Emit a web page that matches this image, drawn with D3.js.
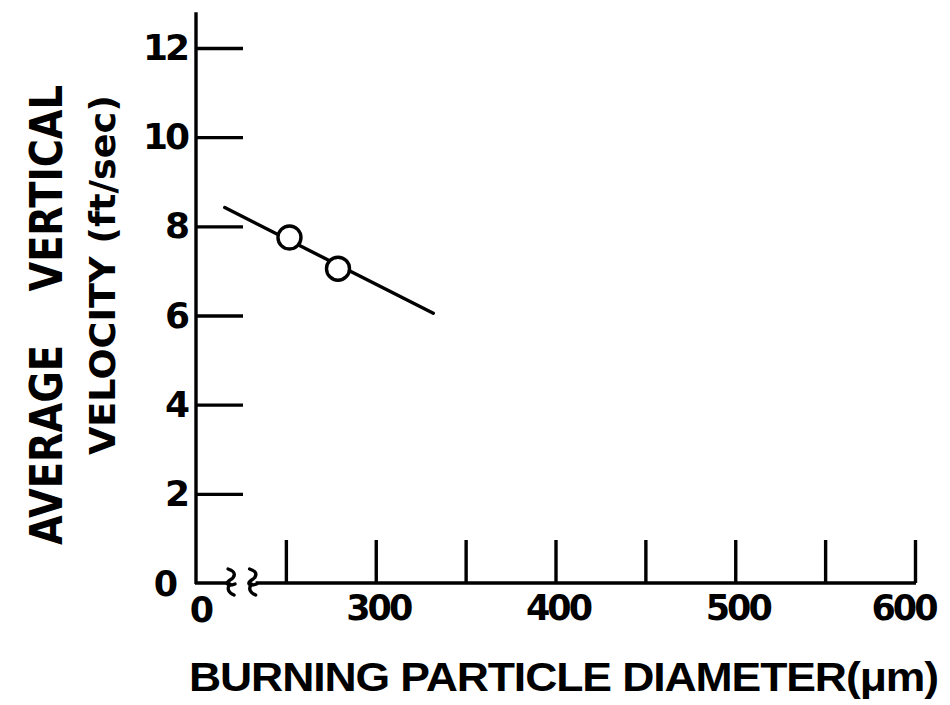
<!DOCTYPE html>
<html>
<head>
<meta charset="utf-8">
<script src="https://cdn.jsdelivr.net/npm/d3@7"></script>
<style>
  body { margin: 0; background: #fff; }
  text { font-family: "DejaVu Sans", sans-serif; font-weight: bold; fill: #000; white-space: pre; }
</style>
</head>
<body>
<svg id="chart" width="950" height="705"></svg>
<script>
// Axis ticks and labels
const yTickValues = [2, 4, 6, 8, 10, 12];
const xTickValues = [250, 300, 350, 400, 450, 500, 550, 600];
const xTickLabels = ["", "300", "", "400", "", "500", "", "600"];
const originLabel = "0";

// Measured points: particle diameter (µm) vs. average vertical velocity (ft/sec)
const pointDiameter = [252, 279];
const pointVelocity = [7.75, 7.05];

// Fitted trend line end points
const fitDiameter = [216, 332];
const fitVelocity = [8.42, 6.05];

// Axis break position on the diameter axis (two squiggles)
const breakDiameter = [219.5, 231.5];

const xTitle = "BURNING PARTICLE DIAMETER(μm)";
const yTitle = ["AVERAGE    VERTICAL", "VELOCITY (ft/sec)"];

const svg = d3.select("#chart");
const x = d3.scaleLinear().domain([200, 600]).range([196, 915]);
const y = d3.scaleLinear().domain([0, 12]).range([583, 48]);
const y0 = y(0);
const stroke = 3.4;

// Vertical axis line (runs a little past the top tick)
svg.append("line")
  .attr("x1", x(200)).attr("x2", x(200))
  .attr("y1", y(0) + 1).attr("y2", y(12.8))
  .attr("stroke", "#000").attr("stroke-width", stroke);

// Horizontal axis line, interrupted by the break
svg.append("line")
  .attr("x1", x(200) - 1).attr("x2", x(breakDiameter[0]) - 3)
  .attr("y1", y0).attr("y2", y0)
  .attr("stroke", "#000").attr("stroke-width", stroke);
svg.append("line")
  .attr("x1", x(breakDiameter[1]) + 3).attr("x2", x(600) + 1)
  .attr("y1", y0).attr("y2", y0)
  .attr("stroke", "#000").attr("stroke-width", stroke);

// Break squiggles
breakDiameter.forEach(d => {
  const cx = x(d);
  svg.append("path")
    .attr("d", `M${cx - 3},${y0 - 14} C${cx + 6},${y0 - 11} ${cx + 4},${y0 - 6} ${cx - 1},${y0 - 3}
                C${cx - 6},${y0} ${cx - 4},${y0 + 4} ${cx + 4},${y0 + 1}
                M${cx - 1},${y0 + 1} C${cx - 5},${y0 + 6} ${cx - 2},${y0 + 10} ${cx + 3},${y0 + 12}`)
    .attr("fill", "none").attr("stroke", "#000").attr("stroke-width", stroke)
    .attr("stroke-linecap", "round");
});

// Y axis: ticks pointing inward
const yAxis = d3.axisLeft(y)
  .tickValues(yTickValues)
  .tickSizeInner(-47)
  .tickSizeOuter(0)
  .tickPadding(9)
  .tickFormat(d3.format("d"));
const gy = svg.append("g").attr("transform", `translate(${x(200)},0)`).call(yAxis);
gy.select(".domain").remove();
gy.selectAll(".tick line").attr("stroke", "#000").attr("stroke-width", stroke);
gy.selectAll(".tick text")
  .style("font-family", "'DejaVu Sans', sans-serif")
  .style("font-weight", "bold")
  .attr("font-size", 36).attr("fill", "#000")
  .attr("letter-spacing", -3);

// X axis: ticks pointing inward
const xAxis = d3.axisBottom(x)
  .tickValues(xTickValues)
  .tickSizeInner(-43)
  .tickSizeOuter(0)
  .tickPadding(12)
  .tickFormat((d, i) => xTickLabels[i]);
const gx = svg.append("g").attr("transform", `translate(0,${y0})`).call(xAxis);
gx.select(".domain").remove();
gx.selectAll(".tick line").attr("stroke", "#000").attr("stroke-width", stroke);
gx.selectAll(".tick text")
  .style("font-family", "'DejaVu Sans', sans-serif")
  .style("font-weight", "bold")
  .attr("font-size", 35).attr("fill", "#000")
  .attr("letter-spacing", -3)
  .attr("dx", d => d === 600 ? -12 : 2);

// Origin labels
svg.append("text")
  .attr("x", x(200) - 18).attr("y", y0 + 13)
  .attr("text-anchor", "end")
  .attr("font-size", 35)
  .text(originLabel);
svg.append("text")
  .attr("x", x(200) + 6).attr("y", y0 + 39)
  .attr("text-anchor", "middle")
  .attr("font-size", 35)
  .text(originLabel);

// Trend line
svg.append("line")
  .attr("x1", x(fitDiameter[0])).attr("y1", y(fitVelocity[0]))
  .attr("x2", x(fitDiameter[1])).attr("y2", y(fitVelocity[1]))
  .attr("stroke", "#000").attr("stroke-width", stroke)
  .attr("stroke-linecap", "round");

// Open-circle data points
svg.selectAll("circle.pt")
  .data(d3.range(pointDiameter.length))
  .join("circle")
  .attr("class", "pt")
  .attr("cx", i => x(pointDiameter[i]))
  .attr("cy", i => y(pointVelocity[i]))
  .attr("r", 11.5)
  .attr("fill", "#fff")
  .attr("stroke", "#000")
  .attr("stroke-width", stroke);

// X axis title
svg.append("text")
  .attr("x", 189).attr("y", 691)
  .style("font-family", "'Liberation Sans', Arial, sans-serif")
  .attr("font-size", 41)
  .attr("letter-spacing", -1)
  .attr("textLength", 749)
  .attr("lengthAdjust", "spacingAndGlyphs")
  .text(xTitle);

// Y axis title (two rotated lines)
svg.append("text")
  .attr("transform", "translate(62,315) rotate(-90)")
  .attr("text-anchor", "middle")
  .attr("font-size", 44)
  .attr("textLength", 460)
  .attr("lengthAdjust", "spacingAndGlyphs")
  .text(yTitle[0]);
svg.append("text")
  .attr("transform", "translate(115,275) rotate(-90)")
  .attr("text-anchor", "middle")
  .attr("font-size", 36)
  .attr("textLength", 360)
  .attr("lengthAdjust", "spacingAndGlyphs")
  .text(yTitle[1]);
</script>
</body>
</html>
